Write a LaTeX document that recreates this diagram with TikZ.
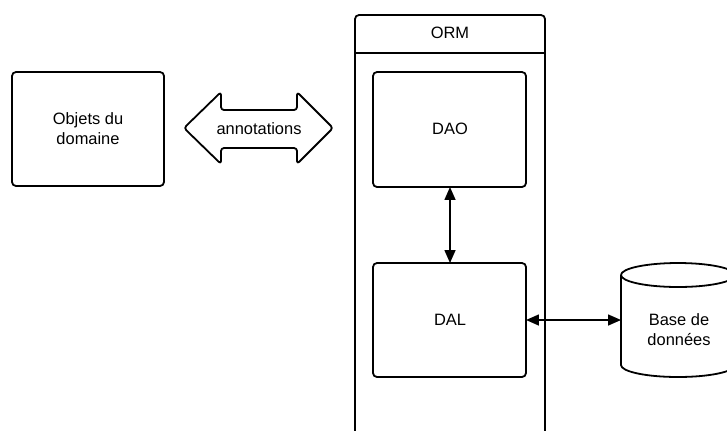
\documentclass[tikz,border=0pt]{standalone}
\usepackage{fontspec}
\setmainfont{Liberation Sans}
\usetikzlibrary{arrows.meta,shapes.geometric}
\begin{document}
\begin{tikzpicture}[x=1bp,y=-1bp,
  box/.style={draw,line width=1.8pt,rounded corners=4pt,fill=white},
  lbl/.style={font=\fontsize{16.5}{20}\selectfont,align=center,inner sep=0pt},
  conn/.style={line width=1.6pt,{Triangle[length=13pt,width=11pt]}-{Triangle[length=13pt,width=11pt]}}]
\useasboundingbox (0,0) rectangle (727,430);
\clip (0,0) rectangle (727,430);
% Objets du domaine
\draw[box] (12,72) rectangle (164,186);
\node[lbl] (obj) at (88,129) {Objets du\\domaine};
% annotations double arrow
\draw[line width=1.8pt,rounded corners=3pt,line join=round]
  (184,128) -- (221,92) -- (221,110) -- (297,110) -- (297,92) -- (333,128)
  -- (297,164) -- (297,148) -- (221,148) -- (221,164) -- cycle;
\node[lbl] (ann) at (259,129) {annotations};
% ORM container
\draw[line width=1.8pt,rounded corners=4pt] (355,440) -- (355,15) -- (545,15) -- (545,440);
\draw[line width=1.8pt] (355,53) -- (545,53);
\node[lbl] (orm) at (450,33) {ORM};
% DAO
\draw[box] (373,72) rectangle (526,187);
\node[lbl] (dao) at (450,129) {DAO};
\coordinate (daob) at (450,187);
% DAL
\draw[box] (373,263) rectangle (526,377);
\node[lbl] (dal) at (450,320) {DAL};
\coordinate (dalt) at (450,263);
\coordinate (dalr) at (526,320);
% cylinder
\draw[line width=1.8pt,fill=white] (621,275) -- (621,365) arc[start angle=180,end angle=0,x radius=57,y radius=12]
  -- (735,275) arc[start angle=0,end angle=-180,x radius=57,y radius=12];
\draw[line width=1.8pt] (621,275) arc[start angle=180,end angle=0,x radius=57,y radius=12];
\node[lbl] (db) at (679,330) {Base de\\données};
\coordinate (dbl) at (621,320);
% connectors
\draw[conn] (daob) -- (dalt);
\draw[conn] (dalr) -- (dbl);
\end{tikzpicture}
\end{document}
